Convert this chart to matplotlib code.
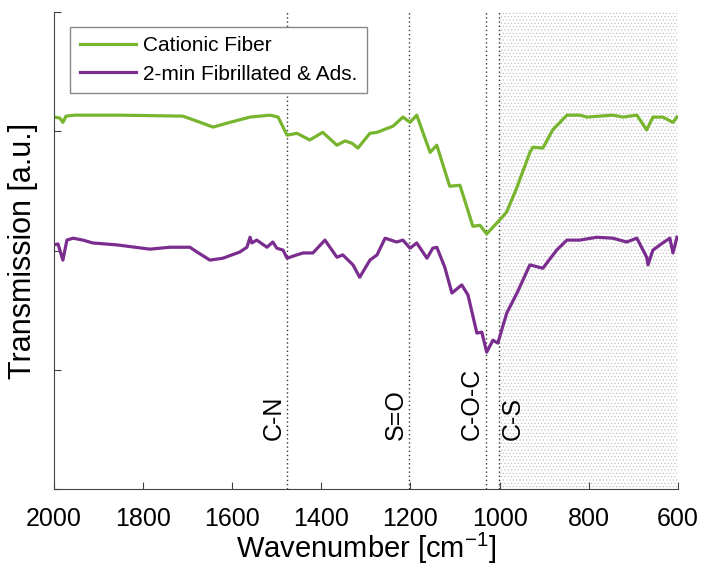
import numpy as np
import matplotlib.pyplot as plt

plt.rcParams['font.family'] = ['Liberation Sans', 'DejaVu Sans']
plt.rcParams['mathtext.fontset'] = 'custom'
plt.rcParams['mathtext.rm'] = 'Liberation Sans'
plt.rcParams['hatch.color'] = '#b8b8b8'
plt.rcParams['hatch.linewidth'] = 0.4

# spectra (wavenumber in cm-1, transmission in a.u.)
wn_cationic = [2000, 1987, 1980, 1973, 1953, 1852, 1711, 1672, 1643, 1605, 1560, 1515,
               1497, 1477, 1455, 1426, 1397, 1365, 1347, 1331, 1318, 1291, 1275, 1239,
               1217, 1201, 1186, 1156, 1141, 1112, 1089, 1060, 1044, 1029, 1004, 984,
               961, 932, 925, 903, 881, 849, 820, 804, 746, 723, 692, 670, 656, 634,
               611, 602]
tr_cationic = [78.0, 77.8, 76.9, 78.2, 78.4, 78.4, 78.2, 76.9, 75.9, 76.9, 78.0, 78.4,
               78.0, 74.2, 74.6, 73.2, 74.8, 72.1, 73.0, 72.5, 71.5, 74.6, 74.8, 76.1,
               78.0, 76.9, 78.4, 70.6, 72.1, 63.5, 63.7, 55.1, 55.3, 53.5, 56.0, 58.1,
               63.3, 70.6, 71.7, 71.5, 75.3, 78.4, 78.4, 78.0, 78.4, 78.0, 78.4, 75.3,
               78.0, 78.0, 76.9, 78.0]

wn_fibrillated = [2000, 1991, 1980, 1971, 1957, 1935, 1913, 1859, 1785, 1740, 1695, 1679,
                  1650, 1621, 1583, 1567, 1560, 1556, 1545, 1522, 1509, 1500, 1486, 1477,
                  1455, 1441, 1419, 1392, 1365, 1352, 1329, 1314, 1291, 1275, 1257, 1231,
                  1217, 1201, 1186, 1163, 1150, 1141, 1123, 1107, 1085, 1071, 1051, 1040,
                  1029, 1015, 1004, 984, 961, 932, 903, 872, 849, 820, 782, 746, 715, 692,
                  670, 667, 656, 634, 618, 611, 602]
tr_fibrillated = [51.2, 51.4, 48.0, 52.2, 52.6, 52.2, 51.6, 51.2, 50.3, 50.7, 50.7, 49.7,
                  48.0, 48.4, 49.7, 50.7, 52.8, 51.6, 52.2, 50.7, 51.8, 50.5, 50.1, 48.4,
                  49.1, 49.5, 49.5, 52.2, 48.6, 49.1, 47.0, 44.4, 48.0, 49.1, 52.6, 51.8,
                  52.2, 50.5, 51.6, 48.4, 50.5, 50.7, 46.5, 41.1, 42.8, 40.7, 32.7, 32.9,
                  28.7, 31.2, 30.6, 36.9, 41.1, 47.0, 46.3, 50.1, 52.2, 52.2, 52.8, 52.6,
                  51.8, 52.6, 48.6, 47.0, 50.1, 51.6, 52.6, 49.5, 52.8]

band_labels = ['C-N', 'S=O', 'C-O-C', 'C-S']
band_positions = [1477, 1203, 1031, 1002]
x_ticks = [2000, 1800, 1600, 1400, 1200, 1000, 800, 600]

fig = plt.figure(figsize=(7.01, 5.69), dpi=100)
ax = fig.add_axes([0.077, 0.1406, 0.890, 0.838])

# shaded fingerprint region
ax.axvspan(1002, 600, facecolor='none', edgecolor='#b8b8b8', hatch='.....', linewidth=0, zorder=0)

ax.plot(wn_cationic, tr_cationic, color='#77b52e', linewidth=2.3, label='Cationic Fiber')
ax.plot(wn_fibrillated, tr_fibrillated, color='#7b2d8f', linewidth=2.3,
        label='2-min Fibrillated & Ads.')

for name, pos in zip(band_labels, band_positions):
    ax.axvline(pos, color='#333333', linestyle=(0, (1, 2)), linewidth=1.0, zorder=1)
    if name == 'C-S':
        ax.text(pos - 4, 10.3, name, rotation=90, ha='left', va='bottom', fontsize=18)
    else:
        ax.text(pos + 4, 10.3, name, rotation=90, ha='right', va='bottom', fontsize=18)

ax.set_xlim(2000, 600)
ax.set_ylim(0, 100)
ax.set_xticks(x_ticks)
ax.set_yticks([0, 25, 50, 75, 100])
ax.set_yticklabels([])
ax.tick_params(direction='in', length=5, labelsize=18, color='#444444')
ax.tick_params(axis='x', pad=13)
for side in ['top', 'right']:
    ax.spines[side].set_visible(False)
for side in ['left', 'bottom']:
    ax.spines[side].set_color('#444444')

ax.set_xlabel(r'Wavenumber [cm$^{\mathregular{-1}}$]', fontsize=21, labelpad=0)
ax.set_ylabel('Transmission [a.u.]', fontsize=22, labelpad=8)

leg = ax.legend(loc='upper left', bbox_to_anchor=(0.026, 0.969), fontsize=15,
                fancybox=False, edgecolor='#888888', handlelength=2.7,
                handletextpad=0.35, borderpad=0.45, labelspacing=0.45,
                borderaxespad=0, framealpha=1)
leg.get_frame().set_linewidth(1.0)

fig.savefig('out.png', dpi=100)
